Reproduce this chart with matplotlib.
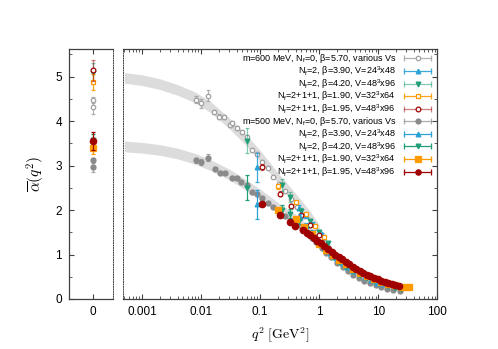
import numpy as np
import matplotlib
matplotlib.use('Agg')
import matplotlib.pyplot as plt
from matplotlib.lines import Line2D
from matplotlib.legend_handler import HandlerLine2D, HandlerTuple
from matplotlib.ticker import FixedLocator, MultipleLocator, NullFormatter

plt.rcParams['font.family'] = ['Liberation Sans', 'DejaVu Sans']
plt.rcParams['mathtext.fontset'] = 'custom'
plt.rcParams['mathtext.rm'] = 'Liberation Sans'
plt.rcParams['mathtext.it'] = 'Liberation Sans:italic'

# grey bands (fits), q^2 in GeV^2
band_q2 = [5e-4, 1e-3, 2e-3, 4e-3, 8e-3, 0.015, 0.03, 0.06, 0.1, 0.2, 0.4, 0.7, 1.0]
band_600 = [4.97, 4.92, 4.83, 4.70, 4.53, 4.30, 3.95, 3.55, 3.22, 2.72, 2.25, 1.85, 1.55]
band_500 = [3.43, 3.40, 3.35, 3.27, 3.15, 3.00, 2.80, 2.55, 2.35, 2.05, 1.78, 1.50, 1.30]
band_halfwidth = 0.12

# ---- m = 600 MeV set (open symbols) ----
q0_600 = [0.0081, 0.0100, 0.0133, 0.0163, 0.0204, 0.024, 0.031, 0.034, 0.040, 0.049, 0.060, 0.072,
          0.088, 0.107, 0.135, 0.168, 0.21, 0.26, 0.33, 0.42, 0.55, 0.7, 0.9, 1.2, 1.6]
a0_600 = [4.48, 4.40, 4.57, 4.20, 4.10, 4.09, 3.91, 3.95, 3.84, 3.76, 3.65, 3.35,
          3.26, 3.08, 2.95, 2.74, 2.58, 2.42, 2.25, 2.06, 1.86, 1.68, 1.50, 1.28, 1.08]
e0_600 = [0.08, 0.10, 0.13, 0.05, 0.05, 0.05, 0.05, 0.05, 0.05, 0.04, 0.04, 0.04,
          0.04, 0.04, 0.03, 0.03, 0.03, 0.03, 0.03, 0.03, 0.03, 0.03, 0.03, 0.03, 0.03]
z0_600 = [4.48, 4.31]
ze0_600 = [0.07, 0.15]

q390_600 = [0.088, 0.45, 0.6, 0.8, 1.1]
a390_600 = [2.96, 2.05, 1.88, 1.68, 1.45]
e390_600 = [0.33, 0.06, 0.05, 0.04, 0.03]

q420_600 = [0.060, 0.235, 0.32, 0.5, 0.7, 1.0, 1.4]
a420_600 = [3.56, 2.56, 2.29, 1.98, 1.75, 1.50, 1.25]
e420_600 = [0.28, 0.13, 0.12, 0.06, 0.05, 0.04, 0.03]
z420_600 = [5.08]
ze420_600 = [0.22]

q190_600 = [0.204, 0.40, 0.61, 0.85, 1.2]
a190_600 = [2.53, 2.17, 1.90, 1.65, 1.40]
e190_600 = [0.05, 0.04, 0.04, 0.03, 0.03]
z190_600 = [4.88]
ze190_600 = [0.18]

q195_600 = [0.107, 0.219, 0.33, 0.50, 0.7, 1.0]
a195_600 = [2.97, 2.37, 2.08, 1.88, 1.66, 1.44]
e195_600 = [0.06, 0.05, 0.05, 0.04, 0.03, 0.03]
z195_600 = [5.14]
ze195_600 = [0.24]

# ---- m = 500 MeV set (filled symbols) ----
q0_500 = [0.0081, 0.0100, 0.0130, 0.017, 0.021, 0.025, 0.034, 0.040, 0.047, 0.060, 0.072, 0.088,
          0.107, 0.135, 0.168, 0.21, 0.26, 0.34, 0.42, 0.51, 0.62, 0.75, 0.9, 1.1, 1.3, 1.6,
          2.0, 2.5, 3.1, 3.8, 4.7, 5.8, 7.2, 9.0, 11, 14, 18, 23]
a0_500 = [3.12, 3.08, 3.18, 2.93, 2.84, 2.84, 2.73, 2.71, 2.63, 2.56, 2.40, 2.36,
          2.26, 2.16, 2.07, 1.97, 1.86, 1.76, 1.66, 1.58, 1.48, 1.38, 1.27, 1.14, 1.04, 0.94,
          0.82, 0.71, 0.62, 0.54, 0.47, 0.41, 0.36, 0.31, 0.27, 0.23, 0.20, 0.17]
e0_500 = [0.06, 0.06, 0.08, 0.04, 0.04, 0.04, 0.04, 0.04, 0.04, 0.03, 0.03, 0.03,
          0.03, 0.03, 0.03, 0.03, 0.03, 0.03, 0.03, 0.03, 0.03, 0.03, 0.03, 0.03, 0.03, 0.03,
          0.02, 0.02, 0.02, 0.02, 0.02, 0.02, 0.02, 0.02, 0.02, 0.02, 0.02, 0.02]
z0_500 = [3.12, 2.97]
ze0_500 = [0.06, 0.12]

q390_500 = [0.088, 0.47, 0.6, 0.75, 0.95, 1.2, 1.5, 1.9, 2.4, 3.0, 3.8, 4.8, 6.0, 7.5, 9.5, 12]
a390_500 = [2.13, 1.84, 1.65, 1.50, 1.30, 1.15, 1.03, 0.92, 0.82, 0.73, 0.64, 0.56, 0.49, 0.43, 0.37, 0.33]
e390_500 = [0.33, 0.06, 0.05, 0.04, 0.04, 0.03, 0.03, 0.03, 0.02, 0.02, 0.02, 0.02, 0.02, 0.02, 0.02, 0.02]

q420_500 = [0.060, 0.235, 0.32, 0.45, 0.6, 0.8, 1.0, 1.3, 1.7, 2.2, 2.9, 3.8, 5.0, 6.5, 8.5, 11, 14.5, 19, 24]
a420_500 = [2.50, 2.00, 1.92, 1.75, 1.60, 1.45, 1.22, 1.08, 0.95, 0.84, 0.73, 0.63, 0.55, 0.47, 0.41, 0.35,
            0.30, 0.25, 0.22]
e420_500 = [0.28, 0.12, 0.10, 0.06, 0.05, 0.04, 0.04, 0.03, 0.03, 0.03, 0.02, 0.02, 0.02, 0.02, 0.02, 0.02,
            0.02, 0.02, 0.02]
z420_500 = [3.58]
ze420_500 = [0.12]

q190_500 = [0.204, 0.41, 0.55, 0.75, 1.0, 1.3, 1.7, 2.2, 2.9, 3.8, 5.0, 6.5, 8.5, 11, 14.5, 19, 25, 29, 33]
a190_500 = [1.99, 1.80, 1.62, 1.47, 1.24, 1.10, 0.98, 0.88, 0.78, 0.68, 0.59, 0.51, 0.45, 0.39, 0.34, 0.31,
            0.28, 0.27, 0.26]
e190_500 = [0.04, 0.04, 0.03, 0.03, 0.03, 0.03, 0.02, 0.02, 0.02, 0.02, 0.02, 0.02, 0.02, 0.02, 0.02, 0.02,
            0.02, 0.02, 0.02]
z190_500 = [3.39]
ze190_500 = [0.13]

q195_500 = [0.107, 0.219, 0.32, 0.39, 0.53, 0.62, 0.71, 0.81, 0.93, 1.07, 1.23, 1.41, 1.62, 1.86, 2.14,
            2.45, 2.82, 3.24, 3.72, 4.27, 4.9, 5.6, 6.5, 7.4, 8.5, 9.8, 11.2, 12.9, 14.8, 17.0, 19.5, 22.4]
a195_500 = [2.14, 1.88, 1.73, 1.65, 1.55, 1.48, 1.43, 1.38, 1.31, 1.25, 1.18, 1.12, 1.06, 1.00, 0.94,
            0.89, 0.83, 0.78, 0.73, 0.68, 0.63, 0.59, 0.55, 0.51, 0.47, 0.44, 0.41, 0.38, 0.35, 0.33, 0.31, 0.29]
e195_500 = [0.05, 0.04, 0.04, 0.03, 0.03, 0.03, 0.03, 0.03, 0.03, 0.03, 0.03, 0.02, 0.02, 0.02, 0.02,
            0.02, 0.02, 0.02, 0.02, 0.02, 0.02, 0.02, 0.02, 0.02, 0.02, 0.02, 0.02, 0.02, 0.02, 0.02, 0.02, 0.02]
z195_500 = [3.56]
ze195_500 = [0.2]

labels = [
    'm=600 MeV, N$_\\mathrm{f}$=0, β=5.70, various Vs',
    'N$_\\mathrm{f}$=2, β=3.90, V=24$^3$x48',
    'N$_\\mathrm{f}$=2, β=4.20, V=48$^3$x96',
    'N$_\\mathrm{f}$=2+1+1, β=1.90, V=32$^3$x64',
    'N$_\\mathrm{f}$=2+1+1, β=1.95, V=48$^3$x96',
    'm=500 MeV, N$_\\mathrm{f}$=0, β=5.70, various Vs',
    'N$_\\mathrm{f}$=2, β=3.90, V=24$^3$x48',
    'N$_\\mathrm{f}$=2, β=4.20, V=48$^3$x96',
    'N$_\\mathrm{f}$=2+1+1, β=1.90, V=32$^3$x64',
    'N$_\\mathrm{f}$=2+1+1, β=1.95, V=48$^3$x96',
]

GRAY_O = '#a0a0a0'
GRAY = '#8a8a8a'
BLUE = '#2aa2d8'
GREEN = '#1f9e78'
ORANGE = '#ff9a00'
RED = '#a00000'

series = [
    # q2, alpha, err, zero vals, zero errs, color, marker, filled, ms, err alpha
    (q0_600, a0_600, e0_600, z0_600, ze0_600, GRAY_O, 'o', False, 3.2, 0.8),
    (q390_600, a390_600, e390_600, [], [], BLUE, '^', True, 3.4, 0.9),
    (q420_600, a420_600, e420_600, z420_600, ze420_600, GREEN, 'v', True, 3.4, 0.55),
    (q190_600, a190_600, e190_600, z190_600, ze190_600, ORANGE, 's', False, 3.2, 0.9),
    (q195_600, a195_600, e195_600, z195_600, ze195_600, RED, 'o', False, 3.4, 0.5),
    (q0_500, a0_500, e0_500, z0_500, ze0_500, GRAY, 'o', True, 3.6, 0.7),
    (q390_500, a390_500, e390_500, [], [], BLUE, '^', True, 3.4, 1.0),
    (q420_500, a420_500, e420_500, z420_500, ze420_500, GREEN, 'v', True, 3.4, 1.0),
    (q190_500, a190_500, e190_500, z190_500, ze190_500, ORANGE, 's', True, 3.8, 1.0),
    (q195_500, a195_500, e195_500, z195_500, ze195_500, RED, 'o', True, 4.6, 1.0),
]

fig = plt.figure(figsize=(4.98, 3.49), dpi=100)
axL = fig.add_axes([0.1386, 0.1433, 0.0884, 0.7163])
axR = fig.add_axes([0.247, 0.1433, 0.631, 0.7163])

bq = np.array(band_q2)
for b in (band_600, band_500):
    b = np.array(b)
    axR.fill_between(bq, b - band_halfwidth, b + band_halfwidth, color='#dcdcdc', lw=0, zorder=1)

handles = []
hmap = {}
for i, (q, a, e, z, ze, col, mk, filled, ms, ealpha) in enumerate(series):
    mfc = col if filled else 'white'
    ecol = matplotlib.colors.to_rgba(col, ealpha)
    kw = dict(fmt=mk, color=col, mfc=mfc, mec=col, ms=ms, mew=0.9, ecolor=ecol,
              elinewidth=0.9, capsize=1.6, capthick=0.9, zorder=3 + i)
    axR.errorbar(q, a, yerr=e, **kw)
    if z:
        axL.errorbar(np.zeros(len(z)), z, yerr=ze, **kw)
    bar = Line2D([], [], color=ecol, lw=0.9, marker='|', ms=4, mew=0.9)
    dot = Line2D([], [], ls='none', marker=mk, color=col, mfc=mfc, mec=col, ms=min(ms, 3.8), mew=0.9)
    handles.append((bar, dot))
    hmap[bar] = HandlerLine2D(numpoints=2)
    hmap[dot] = HandlerLine2D(numpoints=1)

leg = axR.legend(handles, labels, handler_map={**hmap, tuple: HandlerTuple(ndivide=1)},
                 loc='upper right', bbox_to_anchor=(0.995, 0.994), markerfirst=False,
                 frameon=False, fontsize=6.5, labelspacing=-0.11, handlelength=3.6,
                 handletextpad=0.6, borderpad=0.2, borderaxespad=0.0)

# axes styling
spine_col = '#404040'
for ax in (axL, axR):
    for s in ax.spines.values():
        s.set_color(spine_col)
        s.set_linewidth(0.9)
    ax.set_ylim(0, 5.62)
axL.spines['right'].set_linestyle((0, (1, 1.5)))
axL.spines['right'].set_linewidth(0.7)
axR.spines['left'].set_linestyle((0, (1, 1.5)))
axR.spines['left'].set_linewidth(0.7)

axL.set_xlim(-1.05, 0.9)
axL.xaxis.set_major_locator(FixedLocator([0]))
axL.set_xticklabels(['0'])
axL.yaxis.set_major_locator(MultipleLocator(1))
axL.yaxis.set_minor_locator(MultipleLocator(0.5))
axL.tick_params(axis='both', which='both', direction='in', color=spine_col, labelsize=8.5)
axL.tick_params(axis='x', top=True, bottom=True, length=3.5, pad=5)
axL.tick_params(axis='y', left=True, right=False, length=3.5, pad=5)
axL.tick_params(axis='y', which='minor', length=2)

axR.set_xscale('log')
axR.set_xlim(4.76e-4, 100)
axR.xaxis.set_major_locator(FixedLocator([1e-3, 1e-2, 1e-1, 1, 10, 100]))
axR.set_xticklabels(['0.001', '0.01', '0.1', '1', '10', '100'])
minors = [m * 10.0 ** k for k in range(-4, 2) for m in range(2, 10)]
axR.xaxis.set_minor_locator(FixedLocator(minors))
axR.xaxis.set_minor_formatter(NullFormatter())
axR.yaxis.set_major_locator(MultipleLocator(1))
axR.yaxis.set_minor_locator(MultipleLocator(0.5))
axR.tick_params(axis='both', which='both', direction='in', color=spine_col, labelsize=8.5)
axR.tick_params(axis='x', which='both', top=True, bottom=True, pad=5)
axR.tick_params(axis='x', which='major', length=3.5)
axR.tick_params(axis='x', which='minor', length=2)
axR.tick_params(axis='y', which='both', left=False, right=True, labelleft=False, length=3.5)
axR.tick_params(axis='y', which='minor', length=2)

axL.set_ylabel(r'$\overline{\alpha}(q^2)$', fontsize=11, math_fontfamily='cm', labelpad=6)
axR.set_xlabel(r'$q^2\ [\mathrm{GeV}^2]$', fontsize=10, math_fontfamily='cm', labelpad=6)

fig.savefig('out.png', dpi=100)
